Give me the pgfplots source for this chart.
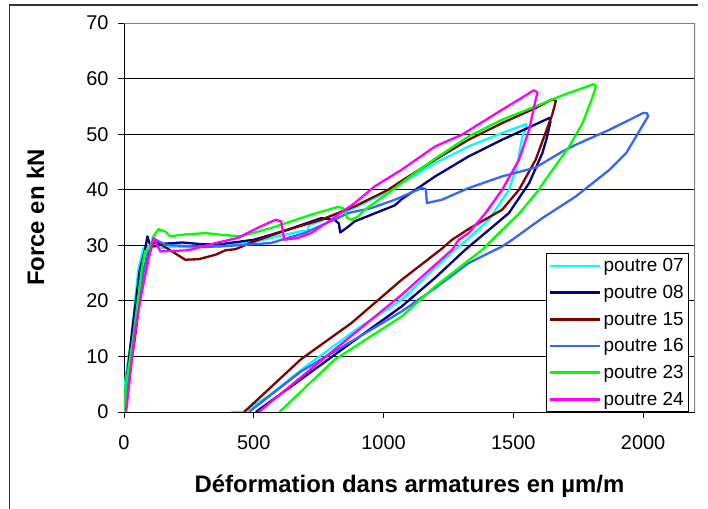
\documentclass[border=0pt]{standalone}
\usepackage{fontspec}
\setmainfont{Liberation Sans}
\usepackage{pgfplots}
\pgfplotsset{compat=1.18}

\definecolor{p07}{HTML}{00FFFF}
\definecolor{p08}{HTML}{000080}
\definecolor{p15}{HTML}{800000}
\definecolor{p16}{HTML}{3366FF}
\definecolor{p23}{HTML}{00FF00}
\definecolor{p24}{HTML}{FF00FF}

\begin{document}
\begin{tikzpicture}
\begin{axis}[
    at={(124bp,97bp)}, anchor=south west,
    width=571bp, height=389bp, scale only axis,
    xmin=0, xmax=2200, ymin=0, ymax=70,
    xtick={0,500,1000,1500,2000},
    ytick={0,10,20,30,40,50,60,70},
    axis x line*=bottom, axis y line*=left,
    axis line style={black, line width=1bp, -},
    tick align=outside, major tick length=6bp,
    tick style={black, line width=1bp},
    ymajorgrids=true,
    grid style={black, line width=0.9bp},
    /pgf/number format/assume math mode=true,
    /pgf/number format/1000 sep={},
    ticklabel style={font=\fontsize{20}{22}\selectfont},
    xticklabel style={yshift=-14bp},
    yticklabel style={xshift=-6bp},
    xlabel={\textbf{Déformation dans armatures en µm/m}},
    ylabel={\textbf{Force en kN}},
    label style={font=\fontsize{24}{26}\selectfont},
    xlabel style={yshift=-18bp},
    ylabel style={yshift=35bp},
    legend style={at={(1,0)}, anchor=south east, xshift=-6bp,
        draw=black, line width=0.8bp,
        font=\fontsize{19}{21}\selectfont, row sep=8bp, inner sep=3bp},
    legend cell align=left,
    legend image code/.code={\draw[#1, line width=2.5bp] (0bp,0bp) -- (50bp,0bp);},
    every axis plot/.append style={line width=2.3bp, line join=round},
]
\addplot[p07] coordinates {
(0,0) (3,5) (29,13.6) (55,25.6) (75,29.5) (100,29.9) (150,29.5) (200,29.8)
(250,29.6) (300,29.8) (372,29.9) (501,30.6) (600,31.7) (690,32.6) (706,32.3)
(712,33.6) (760,34.4) (800,35.3) (850,36.0) (900,37.0) (1000,39.3) (1070,41.2)
(1199,44.8) (1328,47.8) (1457,50.2) (1550,51.8) (1545,50.5) (1535,49.6)
(1514,44.2) (1483,40.0) (1406,34.6) (1322,31.0) (1290,29.8) (1200,26.0)
(1070,20.2) (900,15.0) (700,8.2) (560,3.0) (460,0) (413,0)
};
\addplot[p08] coordinates {
(0,0) (8,5) (35,16) (61,25.6) (81,29.2) (90,31.6) (98,30.4) (110,29.8)
(159,30.3) (224,30.5) (300,30.2) (372,30.2) (501,31.0) (631,32.8) (760,34.9)
(811,34.6) (828,33.9) (833,32.3) (857,33.1) (889,34.3) (953,35.5) (1044,37.2)
(1070,38.3) (1199,42.4) (1328,46.0) (1457,49.0) (1560,51.2) (1638,52.9)
(1643,52.2) (1630,49.5) (1612,46.6) (1561,41.2) (1483,35.8) (1376,31.6)
(1315,29.2) (1200,24.2) (1070,19.0) (900,13.3) (700,6.5) (508,0)
};
\addplot[p15] coordinates {
(0,0) (18,6) (43,13.6) (75,25.6) (107,29.8) (118,30.7) (140,30.2) (185,28.9)
(236,27.4) (288,27.5) (353,28.3) (391,29.1) (430,29.3) (501,30.7) (631,32.8)
(760,34.6) (889,37.0) (1018,40.0) (1070,41.6) (1199,45.4) (1328,49.0)
(1457,52.0) (1586,54.7) (1651,56.3) (1664,56.0) (1650,53.5) (1638,52.0)
(1586,45.4) (1522,40.0) (1457,36.4) (1330,33.0) (1264,31.0) (1225,29.4)
(1070,23.8) (876,16.0) (682,9.5) (463,0)
};
\addplot[p16] coordinates {
(0,0) (12,5) (45,15) (70,24) (90,28.5) (114,31.2) (159,30.1) (224,29.9)
(300,29.7) (372,29.8) (566,30.4) (695,32.2) (824,34.9) (863,35.8) (953,36.7)
(1044,38.2) (1147,40.3) (1163,40.1) (1167,37.6) (1225,38.2) (1328,40.3)
(1457,42.4) (1586,44.0) (1690,46.9) (1741,48.1) (1871,50.8) (2000,53.8)
(2015,53.8) (2019,53.2) (2000,51.7) (1935,46.6) (1871,43.6) (1741,38.8)
(1612,34.9) (1496,31.0) (1457,29.8) (1328,26.8) (1199,22.3) (1070,18.1)
(880,12.8) (682,7.3) (481,0)
};
\addplot[p23] coordinates {
(0,0) (8,5) (36,13.6) (68,25.6) (81,28.9) (100,29.5) (113,31.6) (133,32.9)
(159,32.5) (178,31.6) (224,31.9) (314,32.2) (372,31.9) (450,31.6) (566,33.1)
(721,35.5) (824,36.9) (844,36.7) (853,35.8) (860,34.9) (879,34.6) (902,35.2)
(928,36.4) (1018,39.4) (1121,43.0) (1199,45.6) (1328,49.6) (1457,52.6)
(1586,55.0) (1690,57.0) (1810,59.0) (1818,58.5) (1806,56.8) (1767,52.0)
(1716,47.8) (1650,43.5) (1590,39.5) (1520,35.6) (1457,32.8) (1419,31.0)
(1380,29.2) (1199,22.6) (1070,17.2) (811,9.4) (599,0)
};
\addplot[p24] coordinates {
(8,0) (20,5) (43,14.8) (68,21.4) (94,27.4) (114,31.3) (140,28.9) (248,29.1)
(353,30.4) (437,31.3) (527,33.4) (585,34.6) (605,34.3) (611,32.8) (617,31.0)
(669,31.3) (721,32.2) (798,34.6) (889,37.6) (966,40.6) (1070,43.6) (1199,47.8)
(1302,49.9) (1457,54.4) (1580,57.9) (1593,57.5) (1586,56.2) (1561,50.8)
(1522,45.4) (1457,40.0) (1393,35.8) (1328,32.2) (1290,31.0) (1264,29.2)
(1070,21.1) (800,10.8) (519,0)
};
\legend{poutre 07, poutre 08, poutre 15, poutre 16, poutre 23, poutre 24}
\draw[gray, line width=1.2bp] (rel axis cs:0,1) -- (rel axis cs:1,1) -- (rel axis cs:1,0);
\end{axis}
\draw[black!80, line width=1.5bp] (9.5bp,0bp) -- (9.5bp,504bp) -- (698bp,504bp);
\pgfresetboundingbox
\path[use as bounding box] (0bp,0bp) rectangle (708bp,509bp);
\end{tikzpicture}
\end{document}
